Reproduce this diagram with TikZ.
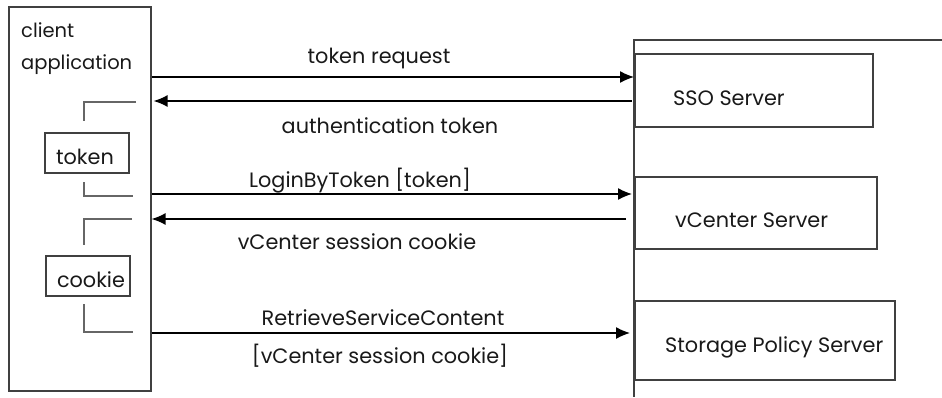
\documentclass[tikz,border=0pt]{standalone}
\usepackage{fontspec}
\setmainfont{Poppins}
\usetikzlibrary{arrows.meta,positioning}

\begin{document}
\begin{tikzpicture}[x=1pt,y=-1pt, font=\fontsize{20.8}{24}\selectfont, text=black!90,
  box/.style={draw=black!75, line width=1.6pt, rectangle, anchor=north west, inner sep=0pt},
  msg/.style={black, line width=1.3pt, -{Latex[length=14pt,width=12pt]}},
  brk/.style={draw=black!60, line width=1.3pt}]
\useasboundingbox (0,0) rectangle (942,397);

% client side
\path
(8,6)      node[box, minimum width=142, minimum height=384] (client) {}
(21,37)    node[anchor=base west, inner sep=0pt, font=\fontsize{19.5}{24}\selectfont] (cname) {client}
(21,69)    node[anchor=base west, inner sep=0pt, font=\fontsize{19.5}{24}\selectfont] (capp) {application}
(44,132)   node[box, minimum width=84, minimum height=40] (token) {}
(45,255)   node[box, minimum width=84, minimum height=40] (cookie) {}
(85,164)   node[anchor=base] (tokentext) {token}
(91,287)   node[anchor=base] (cookietext) {cookie}
;
\draw[brk] (136,102) -| (84,121);
\draw[brk] (84,182) |- (133,196);
\draw[brk] (132,219) -| (84,245);
\draw[brk] (84,304) |- (133,332);

% server side
\coordinate (top) at (634,40);
\coordinate (bottom) at (634,397);
\draw[draw=black!75, line width=1.6pt] (942,40) -- (top) -- (bottom);
\path
(634,53)   node[box, minimum width=238, minimum height=73] (sso) {}
(634,176)  node[box, minimum width=242, minimum height=72] (vc) {}
(634,300)  node[box, minimum width=260, minimum height=79] (sps) {}
(673,105)  node[anchor=base west, inner sep=0pt] (ssotext) {SSO Server}
(675,227)  node[anchor=base west, inner sep=0pt] (vctext) {vCenter Server}
(665,352)  node[anchor=base west, inner sep=0pt] (spstext) {Storage Policy Server}
;

% messages
\coordinate (m1) at (634,77);
\coordinate (m2) at (632,101);
\coordinate (m3) at (632,194);
\coordinate (m4) at (626,219);
\coordinate (m5) at (630,333);

\draw[msg] (m1 -| client.east) -- (m1);
\draw[msg] (m2) -- ([xshift=2]m2 -| client.east);
\draw[msg] (m3 -| client.east) -- (m3);
\draw[msg] (m4) -- (m4 -| client.east);
\draw[msg] (m5 -| client.east) -- (m5);

\path
(379,63)   node[anchor=base] (lreq) {token request}
(390,133)  node[anchor=base] (lauth) {authentication token}
(360,187)  node[anchor=base] (llogin) {LoginByToken [token]}
(357,249)  node[anchor=base] (lcookie) {vCenter session cookie}
(383,325)  node[anchor=base] (lret) {RetrieveServiceContent}
(380,363)  node[anchor=base] (lretc) {[vCenter session cookie]}
;

\end{tikzpicture}
\end{document}
